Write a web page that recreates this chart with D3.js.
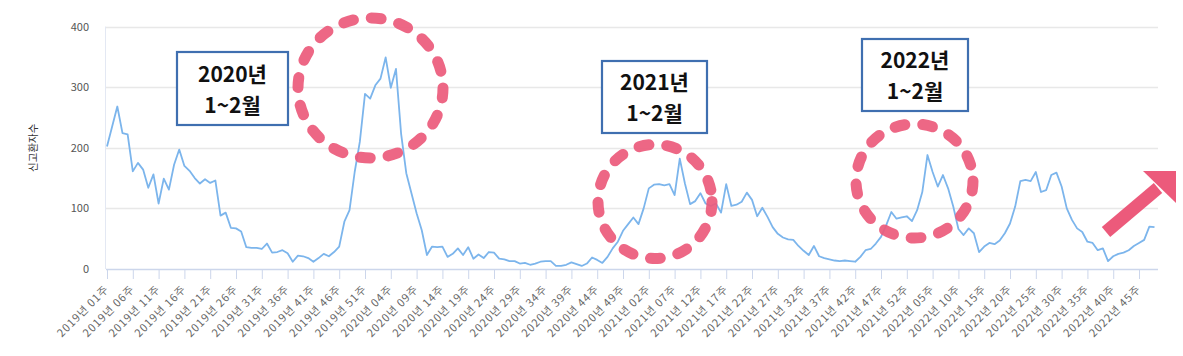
<!DOCTYPE html>
<html><head><meta charset="utf-8">
<script src="https://cdn.jsdelivr.net/npm/d3@7"></script>
<style>
html,body{margin:0;padding:0;background:#fff;}
svg{display:block;font-family:"Noto Sans CJK KR","Noto Sans",sans-serif;}
</style></head>
<body><svg id="c" width="1183" height="356"></svg>
<script>
// ---- data ----
const years = [2019, 2020, 2021, 2022];
const weeksPerYear = 52;
const values = [
 202,235,268,224,222,161,175,164,134,156,
 108,149,131,172,197,170,162,150,141,148,
 142,146,88,93,68,67,62,36,35,35,
 33,42,27,28,31,26,12,22,21,18,
 12,18,25,21,28,37,78,97,160,210,
 289,281,303,314,349,299,330,223,158,125,
 92,64,23,37,36,37,20,25,34,23,
 36,17,24,18,28,27,17,16,13,13,
 9,10,7,9,12,13,13,5,5,7,
 11,8,5,9,19,15,10,20,34,45,
 63,74,85,74,100,133,139,140,138,140,
 122,182,141,107,112,125,108,104,108,93,
 140,104,106,111,126,114,87,101,86,69,
 58,52,49,48,38,30,23,38,21,18,
 16,14,13,14,13,12,20,31,33,42,
 53,72,94,83,85,87,79,97,127,188,
 160,136,155,133,103,66,56,67,59,28,
 37,43,41,47,59,75,103,145,147,145,
 160,127,130,155,159,136,100,81,67,61,
 45,43,31,34,13,21,25,27,31,38,
 43,48,70,69
];
const categories = [];
years.forEach(y => { for (let w = 1; w <= weeksPerYear; w++) categories.push(y + "년 " + String(w).padStart(2, "0") + "주"); });
const cats = categories.slice(0, values.length);
const tickLabels = [
 "2019년 01주","2019년 06주","2019년 11주","2019년 16주","2019년 21주","2019년 26주","2019년 31주","2019년 36주","2019년 41주","2019년 46주","2019년 51주",
 "2020년 04주","2020년 09주","2020년 14주","2020년 19주","2020년 24주","2020년 29주","2020년 34주","2020년 39주","2020년 44주","2020년 49주",
 "2021년 02주","2021년 07주","2021년 12주","2021년 17주","2021년 22주","2021년 27주","2021년 32주","2021년 37주","2021년 42주","2021년 47주","2021년 52주",
 "2022년 05주","2022년 10주","2022년 15주","2022년 20주","2022년 25주","2022년 30주","2022년 35주","2022년 40주","2022년 45주"
];
const yTicks = [0, 100, 200, 300, 400];
const yTitle = "신고환자수";
const boxes = [
 {lines: ["2020년", "1~2월"], x0: 177, y0: 52, x1: 288, y1: 125},
 {lines: ["2021년", "1~2월"], x0: 602, y0: 61, x1: 707, y1: 133},
 {lines: ["2022년", "1~2월"], x0: 862, y0: 39, x1: 968, y1: 111}
];
const circles = [
 {cx: 370.5, cy: 88, rx: 72.5, ry: 70},
 {cx: 655, cy: 201.5, rx: 57, ry: 57},
 {cx: 914.5, cy: 181, rx: 58.5, ry: 57}
];

// ---- chart ----
const svg = d3.select("#c");
const x = d3.scaleLinear().domain([0, values.length - 1]).range([107, 1154.5]);
const y = d3.scaleLinear().domain([0, 400]).range([269, 26.5]);
const xEnd = 1158;

// gridlines
svg.append("g").selectAll("line").data(yTicks.filter(d => d > 0)).join("line")
  .attr("x1", 106).attr("x2", xEnd).attr("y1", d => Math.round(y(d)) + 0.5).attr("y2", d => Math.round(y(d)) + 0.5)
  .attr("stroke", "#e8e8e8").attr("stroke-width", 1.5);
// left faint line
svg.append("line").attr("x1", 105.5).attr("x2", 105.5).attr("y1", y(400)).attr("y2", y(0))
  .attr("stroke", "#e3e8f3").attr("stroke-width", 1);

// y labels
svg.append("g").selectAll("text").data(yTicks).join("text")
  .attr("x", 89).attr("y", d => y(d) + 4).attr("text-anchor", "end")
  .attr("font-size", 11).attr("fill", "#555").text(d => d);
svg.append("text").attr("transform", `translate(37,${y(200)}) rotate(-90)`)
  .attr("text-anchor", "middle").attr("font-size", 10.5).attr("fill", "#333").text(yTitle);

// x axis
const tickIdx = tickLabels.map((_, i) => i * 5);
const xAxis = d3.axisBottom(x).tickValues(tickIdx).tickSize(10).tickFormat((d, i) => tickLabels[i]);
const gx = svg.append("g").attr("transform", `translate(0,${y(0)})`).call(xAxis);
gx.select(".domain").remove();
gx.selectAll(".tick line").attr("stroke", "#ccd6eb");
gx.append("line").attr("x1", 106).attr("x2", xEnd).attr("y1", 0.5).attr("y2", 0.5).attr("stroke", "#ccd6eb").attr("stroke-width", 1.5);
gx.selectAll(".tick text").attr("font-size", 11).attr("fill", "#666")
  .attr("letter-spacing", "0.9px")
  .attr("font-family", "'Noto Sans CJK KR', sans-serif")
  .attr("text-anchor", "end").attr("dy", null).attr("y", 0)
  .attr("transform", "translate(2,21) rotate(-45)");

// line
svg.append("path").datum(values)
  .attr("d", d3.line().x((d, i) => x(i)).y(d => y(d)))
  .attr("fill", "none").attr("stroke", "#7cb5ec").attr("stroke-width", 1.8)
  .attr("stroke-linejoin", "round");

// circles
const pink = "#ec5a7b";
svg.append("g").selectAll("ellipse").data(circles).join("ellipse")
  .attr("cx", d => d.cx).attr("cy", d => d.cy).attr("rx", d => d.rx).attr("ry", d => d.ry)
  .attr("fill", "none").attr("stroke", pink).attr("stroke-opacity", 0.92)
  .attr("stroke-width", 11).attr("stroke-linecap", "round").attr("stroke-dasharray", "10 18");

// boxes
const bg = svg.append("g").selectAll("g").data(boxes).join("g");
bg.append("rect").attr("x", d => d.x0).attr("y", d => d.y0).attr("width", d => d.x1 - d.x0).attr("height", d => d.y1 - d.y0)
  .attr("fill", "#fff").attr("stroke", "#3f6fb0").attr("stroke-width", 2.2);
bg.each(function(d) {
  const g = d3.select(this);
  const cx = (d.x0 + d.x1) / 2, cy = (d.y0 + d.y1) / 2;
  d.lines.forEach((t, k) => {
    g.append("text").attr("x", cx).attr("y", cy + (k === 0 ? -7 : 24))
      .attr("text-anchor", "middle").attr("font-size", 21).attr("font-weight", "bold")
      .attr("fill", "#111").text(t);
  });
});

// arrow
svg.append("line").attr("x1", 1106).attr("y1", 232).attr("x2", 1158).attr("y2", 188)
  .attr("stroke", pink).attr("stroke-width", 13);
svg.append("polygon").attr("points", "1143,171 1176,171 1176,203").attr("fill", pink);
</script></body></html>
